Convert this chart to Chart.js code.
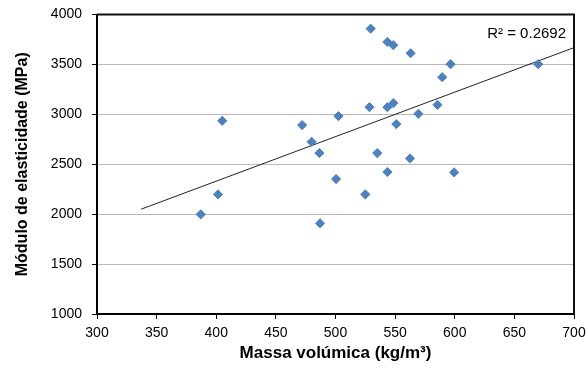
<!DOCTYPE html>
<html><head><meta charset="utf-8">
<script src="https://cdn.jsdelivr.net/npm/chart.js@4.4.1/dist/chart.umd.min.js"></script>
<style>html,body{margin:0;padding:0;background:#fff}#c{display:block}</style>
</head><body>
<canvas id="c" width="588" height="371"></canvas>
<script>
const density = [387, 401.5, 405, 472, 480, 486.5, 487, 500.5, 502.5, 525, 528.5, 529.5, 535, 543.5, 543.5, 543.5, 548.5, 548.5, 551, 562.5, 563, 569.5, 585.5, 589.5, 596.5, 599.5, 670];
const modulus = [1998, 2198, 2935, 2892, 2725, 2612, 1908, 2352, 2982, 2198, 3072, 3858, 2612, 3725, 3072, 2422, 3692, 3112, 2902, 2558, 3612, 3005, 3095, 3372, 3502, 2418, 3502];
const trendRange = [337, 700];
const r2Label = "R² = 0.2692";
const xTicks = [300, 350, 400, 450, 500, 550, 600, 650, 700];
const yTicks = [1000, 1500, 2000, 2500, 3000, 3500, 4000];

// least-squares trendline
const n = density.length;
const mx = density.reduce((a,b)=>a+b,0)/n, my = modulus.reduce((a,b)=>a+b,0)/n;
let sxy=0, sxx=0;
for (let i=0;i<n;i++){ sxy+=(density[i]-mx)*(modulus[i]-my); sxx+=(density[i]-mx)**2; }
const slope = sxy/sxx, icpt = my - slope*mx;
const trend = trendRange.map(x=>({x, y: icpt+slope*x}));

const pts = density.map((x,i)=>({x, y: modulus[i]}));
const FONT = "'Liberation Sans', Arial, sans-serif";

const frame = {
  id:'frame',
  afterDatasetsDraw(chart){
    const {ctx, chartArea:a} = chart;
    ctx.save();
    ctx.strokeStyle='#111'; ctx.lineWidth=2;
    ctx.beginPath();
    ctx.moveTo(a.left, a.top); ctx.lineTo(a.right, a.top); ctx.lineTo(a.right, a.bottom);
    ctx.stroke();
    ctx.fillStyle='#000'; ctx.font = "15px " + FONT; ctx.textAlign='right'; ctx.textBaseline='middle';
    ctx.fillText(r2Label, a.right-8, 34);
    ctx.restore();
  }
};

new Chart(document.getElementById('c'), {
  type:'scatter',
  data:{ datasets:[
    { data: pts, pointStyle:'rectRot', pointRadius:4.6, pointHoverRadius:4.6,
      backgroundColor:'#4F81BD', borderColor:'#4F81BD', borderWidth:1, order:1 },
    { type:'line', data: trend, borderColor:'#222', borderWidth:1, pointRadius:0, fill:false, order:2 }
  ]},
  options:{
    responsive:false, animation:false, devicePixelRatio:1,
    layout:{ padding:{ top:14.5, right:2, left:9, bottom:3 } },
    plugins:{ legend:{display:false}, tooltip:{enabled:false} },
    scales:{
      x:{ type:'linear', min:300, max:700,
          afterBuildTicks(s){ s.ticks = xTicks.map(v=>({value:v})); },
          afterFit(s){ s.height = 371-314-3; s.paddingRight = 14; },
          grid:{ drawOnChartArea:false, drawTicks:true, tickLength:5, tickColor:'#000', tickWidth:1 },
          border:{ color:'#000', width:2 },
          ticks:{ color:'#000', font:{family:FONT, size:14}, padding:6, maxRotation:0, callback:v=>String(v) },
          title:{ display:true, text:'Massa volúmica (kg/m³)', color:'#000', font:{family:FONT, size:17, weight:'bold'}, padding:{top:4} } },
      y:{ type:'linear', min:1000, max:4000,
          afterBuildTicks(s){ s.ticks = yTicks.map(v=>({value:v})); },
          afterFit(s){ s.width = 97-9; s.paddingTop = 0; s.paddingBottom = 0; },
          grid:{ color:'#b8b8b8', lineWidth:1, drawTicks:true, tickLength:5, tickColor:'#000' },
          border:{ color:'#000', width:2 },
          ticks:{ color:'#000', font:{family:FONT, size:14}, padding:10, callback:v=>String(v) },
          title:{ display:true, text:'Módulo de elasticidade (MPa)', color:'#000', font:{family:FONT, size:16, weight:'bold'}, padding:{bottom:4} } }
    }
  },
  plugins:[frame]
});
</script>
</body></html>
